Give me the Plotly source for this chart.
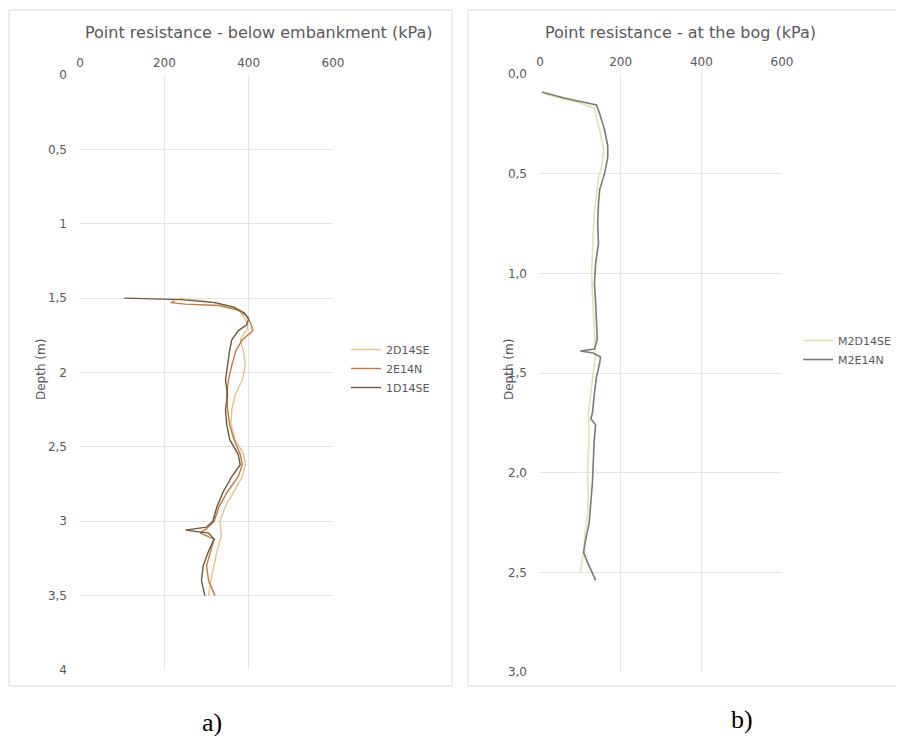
import plotly.graph_objects as go

# page body has an 8px margin, so the figure is drawn 8px in from the top-left
OFF = 8
W, H = 904 - OFF, 736 - OFF

# ---------------- data (a) below embankment ----------------
d_2D14SE = [1.50, 1.52, 1.55, 1.59, 1.64, 1.70, 1.78, 1.86, 1.95, 2.05, 2.15, 2.25, 2.35, 2.45,
            2.55, 2.62, 2.70, 2.80, 2.90, 3.00, 3.10, 3.20, 3.30, 3.40, 3.50]
q_2D14SE = [235, 300, 350, 380, 392, 398, 380, 388, 392, 385, 368, 360, 358, 368,
            388, 392, 385, 365, 345, 332, 335, 325, 318, 310, 305]

d_2E14N = [1.52, 1.53, 1.54, 1.55, 1.58, 1.62, 1.67, 1.72, 1.78, 1.85, 1.95, 2.05, 2.15, 2.25,
           2.35, 2.45, 2.55, 2.62, 2.70, 2.80, 2.90, 3.00, 3.05, 3.08, 3.12, 3.20, 3.30, 3.40, 3.50]
q_2E14N = [225, 215, 250, 330, 375, 395, 405, 410, 385, 370, 360, 352, 348, 350,
           355, 365, 380, 385, 375, 350, 330, 318, 300, 285, 318, 310, 300, 305, 320]

d_1D14SE = [1.50, 1.51, 1.53, 1.56, 1.60, 1.64, 1.68, 1.72, 1.78, 1.85, 1.95, 2.05, 2.15, 2.25,
            2.35, 2.45, 2.55, 2.62, 2.70, 2.80, 2.90, 3.00, 3.04, 3.06, 3.08, 3.12, 3.20, 3.30,
            3.40, 3.50]
q_1D14SE = [105, 240, 320, 365, 390, 400, 395, 375, 360, 355, 350, 345, 350, 345,
            348, 355, 375, 380, 360, 340, 325, 315, 300, 250, 305, 318, 305, 292,
            288, 296]

# ---------------- data (b) at the bog ----------------
d_M2D14SE = [0.10, 0.14, 0.17, 0.22, 0.30, 0.38, 0.45, 0.52, 0.60, 0.70, 0.80, 0.90, 1.00, 1.10,
             1.20, 1.30, 1.40, 1.50, 1.60, 1.70, 1.80, 1.90, 2.00, 2.10, 2.20, 2.30, 2.40, 2.50]
q_M2D14SE = [10, 90, 135, 140, 150, 158, 155, 145, 140, 135, 132, 130, 128, 130,
             132, 135, 138, 132, 125, 120, 122, 120, 118, 120, 118, 112, 108, 100]

d_M2E14N = [0.09, 0.12, 0.155, 0.20, 0.28, 0.36, 0.42, 0.50, 0.58, 0.65, 0.75, 0.85, 0.95, 1.05,
            1.15, 1.25, 1.33, 1.38, 1.39, 1.40, 1.42, 1.45, 1.52, 1.60, 1.70, 1.73, 1.76, 1.85,
            1.95, 2.05, 2.15, 2.25, 2.35, 2.40, 2.45, 2.50, 2.54]
q_M2E14N = [5, 60, 140, 148, 160, 168, 168, 160, 148, 145, 143, 145, 138, 135,
            138, 140, 142, 135, 100, 132, 150, 148, 140, 135, 130, 126, 138, 134,
            132, 130, 126, 122, 112, 108, 118, 130, 138]

x_ticks = [0, 200, 400, 600]
title_a = "Point resistance - below embankment (kPa)"
title_b = "Point resistance - at the bog (kPa)"
y_title = "Depth (m)"


def px(x):
    return (x - OFF) / W


def py(y):
    return 1 - (y - OFF) / H


fig = go.Figure()

fig.add_trace(go.Scatter(x=q_2D14SE, y=d_2D14SE, name="2D14SE", mode="lines",
                         line=dict(color="#e2c58c", width=1.4), xaxis="x", yaxis="y", legend="legend"))
fig.add_trace(go.Scatter(x=q_2E14N, y=d_2E14N, name="2E14N", mode="lines",
                         line=dict(color="#c47a3c", width=1.4), xaxis="x", yaxis="y", legend="legend"))
fig.add_trace(go.Scatter(x=q_1D14SE, y=d_1D14SE, name="1D14SE", mode="lines",
                         line=dict(color="#6b5a3e", width=1.4), xaxis="x", yaxis="y", legend="legend"))

fig.add_trace(go.Scatter(x=q_M2D14SE, y=d_M2D14SE, name="M2D14SE", mode="lines",
                         line=dict(color="#e2e2ae", width=1.6), xaxis="x2", yaxis="y2", legend="legend2"))
fig.add_trace(go.Scatter(x=q_M2E14N, y=d_M2E14N, name="M2E14N", mode="lines",
                         line=dict(color="#7a7a76", width=1.6), xaxis="x2", yaxis="y2", legend="legend2"))

grid = "#e4e4e4"
txt = "#595959"
tickfont = dict(family="DejaVu Sans", size=12, color=txt)

common_x = dict(side="top", range=[0, 600], tickvals=x_ticks, showgrid=True, gridcolor=grid,
                zeroline=False, showline=False, ticks="", tickfont=tickfont, automargin=False,
                ticklabelstandoff=5)
common_y = dict(showgrid=True, gridcolor=grid, zeroline=False, showline=False, ticks="",
                tickfont=tickfont, automargin=False, dtick=0.5, tick0=0, ticklabelstandoff=12)

legfont = dict(family="DejaVu Sans", size=11, color=txt)

fig.update_layout(
    width=W, height=H,
    margin=dict(l=0, r=0, t=0, b=0),
    paper_bgcolor="white", plot_bgcolor="white",
    separators=", ",
    font=dict(family="DejaVu Sans", color=txt),
    xaxis=dict(domain=[px(80), px(333)], anchor="y", **common_x),
    yaxis=dict(domain=[py(670), py(75)], anchor="x", range=[4, 0], **common_y),
    xaxis2=dict(domain=[px(540), px(782)], anchor="y2", **common_x),
    yaxis2=dict(domain=[py(672), py(74)], anchor="x2", range=[3, 0], tickformat=".1f", **common_y),
    legend=dict(x=px(346), y=py(335), xanchor="left", yanchor="top", bgcolor="rgba(0,0,0,0)",
                font=legfont, itemwidth=30, tracegroupgap=0),
    legend2=dict(x=px(798), y=py(326), xanchor="left", yanchor="top", bgcolor="rgba(0,0,0,0)",
                 font=legfont, itemwidth=30, tracegroupgap=0),
    showlegend=True,
)

# outer chart boxes
fig.add_shape(type="rect", xref="paper", yref="paper", x0=px(9), x1=px(452), y0=py(686), y1=py(10),
              line=dict(color="#d9d9d9", width=1), layer="below")
fig.add_shape(type="rect", xref="paper", yref="paper", x0=px(468), x1=px(910), y0=py(686), y1=py(10),
              line=dict(color="#d9d9d9", width=1), layer="below")

ann = dict(xref="paper", yref="paper", showarrow=False, xanchor="center", yanchor="middle")

# axis titles
fig.add_annotation(text=title_a, x=px(259), y=py(33), font=dict(family="DejaVu Sans", size=16, color=txt), **ann)
fig.add_annotation(text=title_b, x=px(680), y=py(33), font=dict(family="DejaVu Sans", size=16, color=txt), **ann)
fig.add_annotation(text=y_title, x=px(41), y=py(370), textangle=-90,
                   font=dict(family="DejaVu Sans", size=12, color=txt), **ann)
fig.add_annotation(text=y_title, x=px(509), y=py(370), textangle=-90,
                   font=dict(family="DejaVu Sans", size=12, color=txt), **ann)

# panel labels
fig.add_annotation(text="a)", x=px(212), y=py(722), font=dict(family="Liberation Serif", size=26, color="black"), **ann)
fig.add_annotation(text="b)", x=px(742), y=py(719), font=dict(family="Liberation Serif", size=26, color="black"), **ann)

fig.write_html("out.html")
